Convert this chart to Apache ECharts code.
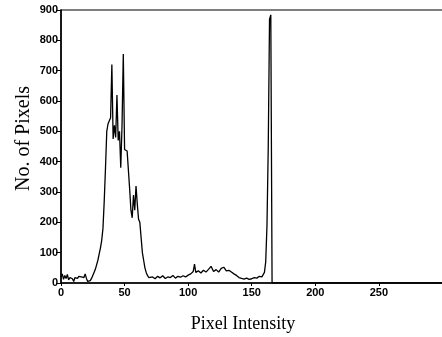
<!DOCTYPE html>
<html>
<head>
<meta charset="utf-8">
<script src="https://cdn.jsdelivr.net/npm/echarts@6/dist/echarts.min.js"></script>
<style>
  html, body { margin: 0; padding: 0; background: #fff; }
  #chart { width: 442px; height: 337px; }
</style>
</head>
<body>
<div id="chart"></div>
<script>
// intensity values (x) and pixel counts (y)
const intensity = [
  0, 1, 2, 3, 4, 5, 6, 7, 8, 9, 10, 11, 12, 13, 14, 15, 16, 17, 18, 19, 20, 21, 22,
  23, 24, 25, 26, 27, 28, 29, 30, 31, 32, 33, 34, 35, 36, 37, 38, 39,
  40, 41, 42, 43, 44, 45, 46, 47, 48, 49, 50, 51, 52, 53, 54, 55, 56, 57, 58, 59,
  60, 61, 62, 63, 64, 65, 66, 67, 68, 69, 70, 72, 74, 76, 78, 80, 82, 84, 86, 88,
  90, 92, 94, 96, 98, 100, 102, 104, 105, 106, 108, 110, 112, 114, 116, 118, 120,
  122, 124, 126, 128, 130, 132, 134, 136, 138, 140, 142, 144, 146, 148, 150, 152,
  154, 156, 158, 159, 160, 161, 162, 163, 164, 165, 166, 180, 200, 201, 230, 231,
  260, 261, 280, 281, 300
];
const pixelCount = [
  20, 30, 12, 25, 15, 28, 10, 18, 22, 14, 5, 18, 20, 15, 22, 16, 20, 25, 18, 30, 15, 5, 4,
  8, 15, 25, 35, 45, 60, 75, 95, 115, 140, 180, 270, 380, 500, 525, 530, 545,
  720, 475, 520, 480, 620, 470, 500, 380, 520, 755, 440, 445, 435, 430, 310, 240, 215, 290, 240, 320,
  260, 210, 200, 150, 100, 75, 50, 35, 25, 18, 15, 20, 14, 22, 17, 24, 15, 20, 18, 25,
  16, 22, 19, 24, 20, 26, 30, 38, 62, 35, 40, 33, 42, 36, 45, 55, 38,
  44, 36, 48, 52, 40, 42, 36, 30, 25, 18, 15, 13, 16, 12, 14, 18,
  16, 22, 20, 25, 35, 70, 190, 450, 870, 884, 0, 0, 0, 2, 0, 3,
  0, 2, 0, 2, 0
];
const yTicks = { min: 0, max: 900, interval: 100 };
const xTicks = { min: 0, max: 302, interval: 50 };

const histData = intensity.map((x, i) => [x, pixelCount[i]]);

const chart = echarts.init(document.getElementById("chart"));
const tickFont = {
  fontFamily: "Liberation Sans",
  fontWeight: "bold",
  fontSize: 11,
  color: "#000",
};

chart.setOption({
  animation: false,
  backgroundColor: "#fff",
  grid: {
    left: 61,
    right: -3,
    top: 10,
    bottom: 54,
    outerBoundsMode: "none",
    containLabel: false,
    show: true,
    borderColor: "#000",
    borderWidth: 1.2,
  },
  xAxis: {
    type: "value",
    min: xTicks.min,
    max: xTicks.max,
    interval: xTicks.interval,
    name: "Pixel Intensity",
    nameLocation: "middle",
    nameGap: 32,
    nameTextStyle: {
      fontFamily: "Liberation Serif",
      fontSize: 18,
      color: "#000",
      padding: [0, 20, 0, 0],
    },
    axisLine: { lineStyle: { color: "#000", width: 1.5 } },
    axisTick: { length: 3, lineStyle: { color: "#000" } },
    axisLabel: {
      ...tickFont,
      margin: 4,
      formatter: (v) => (v <= 250 ? String(v) : ""),
    },
    splitLine: { show: false },
  },
  yAxis: {
    type: "value",
    min: yTicks.min,
    max: yTicks.max,
    interval: yTicks.interval,
    name: "No. of Pixels",
    nameLocation: "middle",
    nameMoveOverlap: false,
    nameGap: 27,
    nameTextStyle: {
      fontFamily: "Liberation Serif",
      fontSize: 20,
      color: "#000",
      padding: [0, 0, 0, 16],
    },
    axisLine: { show: true, lineStyle: { color: "#000", width: 1.5 } },
    axisTick: { show: true, length: 5, lineStyle: { color: "#000" } },
    axisLabel: { ...tickFont, margin: 3 },
    splitLine: { show: false },
  },
  series: [
    {
      type: "line",
      data: histData,
      symbol: "none",
      lineStyle: { color: "#000", width: 1.3 },
    },
  ],
});
</script>
</body>
</html>
